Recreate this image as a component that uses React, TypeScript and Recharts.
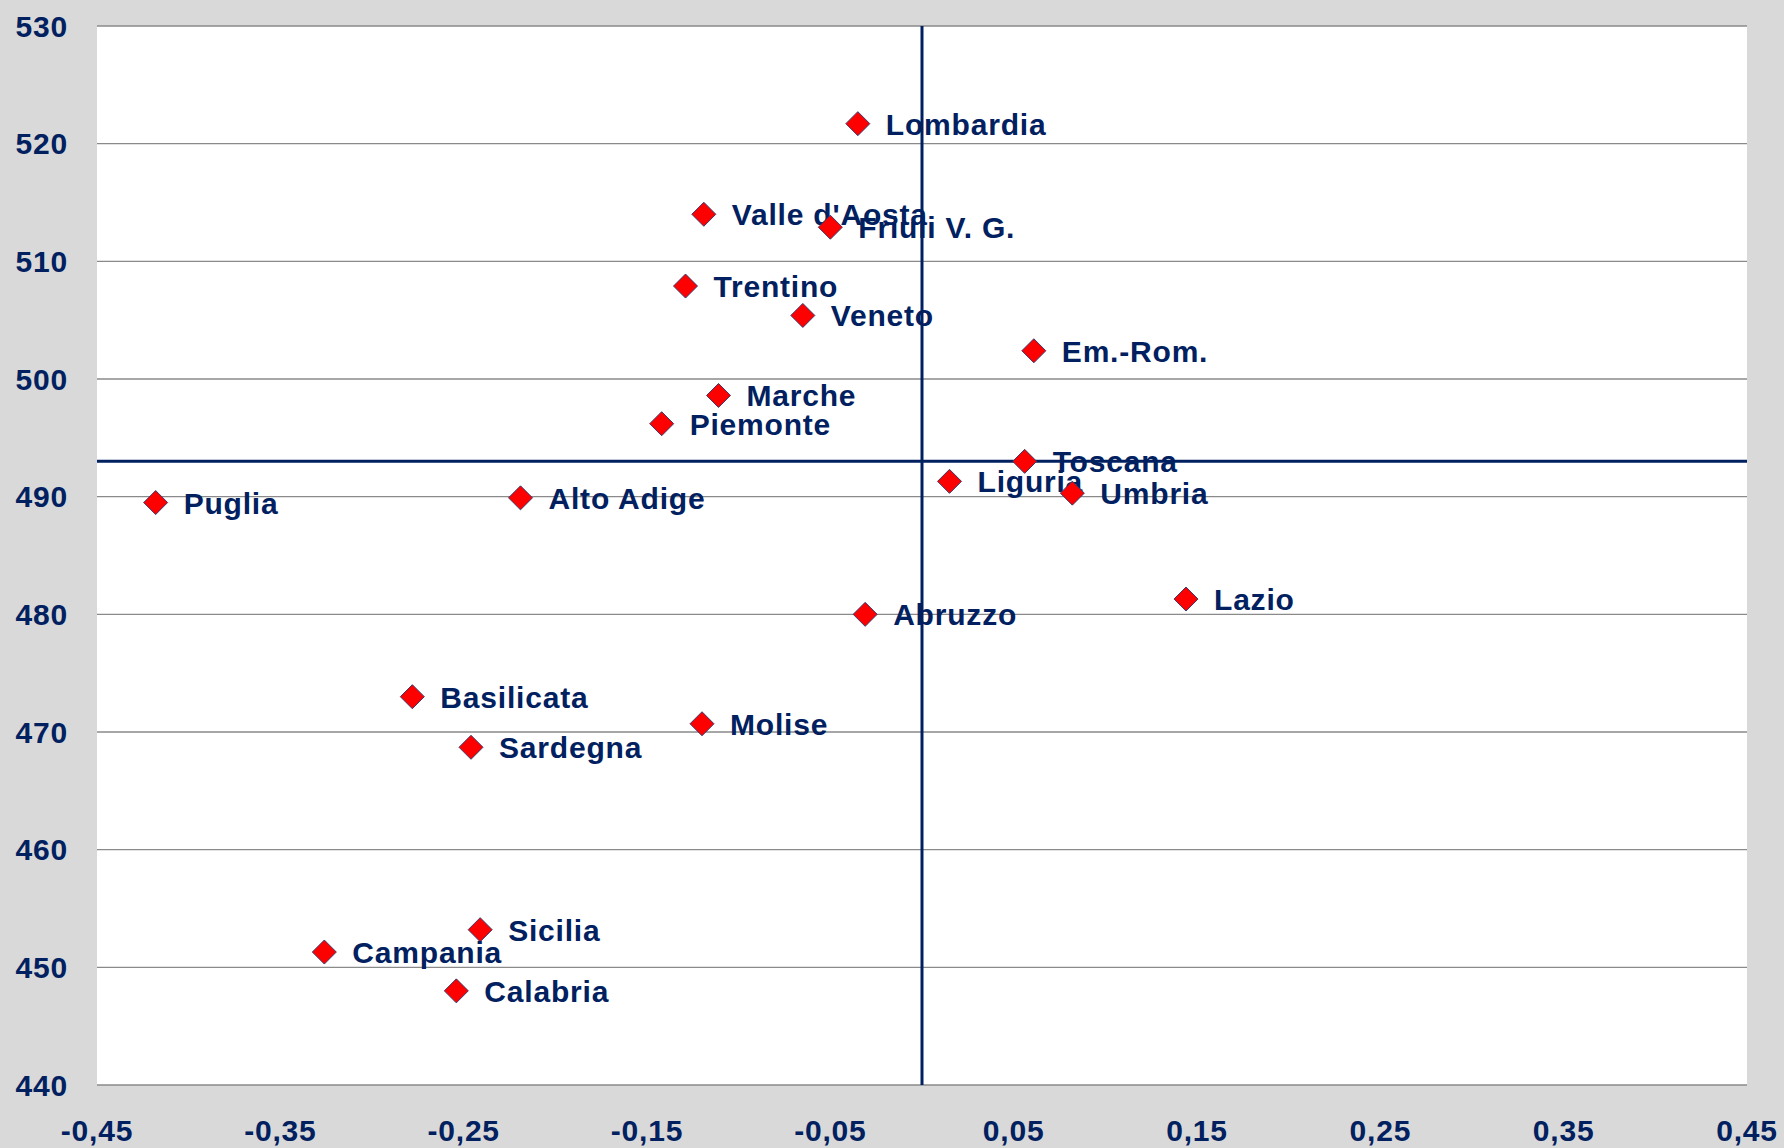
import React from 'react';
import {
  ScatterChart,
  Scatter,
  XAxis,
  YAxis,
  CartesianGrid,
  ReferenceLine,
} from 'recharts';

const regions = [
  'Lombardia', "Valle d'Aosta", 'Friuli V. G.', 'Trentino', 'Veneto', 'Em.-Rom.',
  'Marche', 'Piemonte', 'Toscana', 'Liguria', 'Umbria', 'Puglia', 'Alto Adige',
  'Lazio', 'Abruzzo', 'Basilicata', 'Molise', 'Sardegna', 'Sicilia', 'Campania', 'Calabria',
];
const xValues = [
  -0.035, -0.119, -0.05, -0.129, -0.065, 0.061,
  -0.111, -0.142, 0.056, 0.015, 0.082, -0.418, -0.219,
  0.144, -0.031, -0.278, -0.12, -0.246, -0.241, -0.326, -0.254,
];
const yValues = [
  521.7, 514.0, 512.9, 507.9, 505.4, 502.4,
  498.6, 496.2, 493.0, 491.3, 490.3, 489.5, 489.9,
  481.3, 480.0, 473.0, 470.7, 468.7, 453.2, 451.3, 448.0,
];
const xTicks = [-0.45, -0.35, -0.25, -0.15, -0.05, 0.05, 0.15, 0.25, 0.35, 0.45];
const yTicks = [440, 450, 460, 470, 480, 490, 500, 510, 520, 530];
const meanX = 0;
const meanY = 493;

const NAVY = '#002060';

const data = regions.map((name, i) => ({ name, x: xValues[i], y: yValues[i] }));

const tickStyle = {
  fill: NAVY,
  fontSize: 30,
  fontWeight: 'bold' as const,
  fontFamily: '"Liberation Sans", Arial, sans-serif',
  letterSpacing: 0.8,
};

// red diamond with the region name to its right
function Point(props: any) {
  const { cx, cy, payload } = props;
  const r = 12;
  return (
    <g>
      <polygon
        points={`${cx},${cy - r} ${cx + r},${cy} ${cx},${cy + r} ${cx - r},${cy}`}
        fill="#ff0000"
        stroke="#3a3a6a"
        strokeWidth={1}
      />
      <text
        x={cx + 28}
        y={cy + 11}
        fill={NAVY}
        fontSize={30}
        fontWeight="bold"
        fontFamily='"Liberation Sans", Arial, sans-serif'
        letterSpacing={0.8}
      >
        {payload.name}
      </text>
    </g>
  );
}

export default function App() {
  return (
    <div
      style={{
        position: 'absolute',
        top: 0,
        left: 0,
        width: 1784,
        height: 1148,
        background: '#d9d9d9',
      }}
    >
      <ScatterChart
        width={1784}
        height={1148}
        margin={{ top: 26, right: 37, bottom: 0, left: 0 }}
      >
        <CartesianGrid vertical={false} stroke="#8a8a8a" fill="#ffffff" strokeWidth={1.3} />
        <XAxis
          type="number"
          dataKey="x"
          domain={[-0.45, 0.45]}
          ticks={xTicks}
          interval={0}
          height={63}
          axisLine={false}
          tickLine={false}
          tickSize={0}
          tickMargin={35}
          tick={tickStyle}
          tickFormatter={(v: number) => v.toFixed(2).replace('.', ',')}
        />
        <YAxis
          type="number"
          dataKey="y"
          domain={[440, 530]}
          ticks={yTicks}
          interval={0}
          width={97}
          axisLine={false}
          tickLine={false}
          tickSize={0}
          tickMargin={29}
          tick={tickStyle}
        />
        <Scatter data={data} shape={<Point />} isAnimationActive={false} />
        <ReferenceLine x={meanX} stroke={NAVY} strokeWidth={3} />
        <ReferenceLine y={meanY} stroke={NAVY} strokeWidth={3} />
      </ScatterChart>
    </div>
  );
}
